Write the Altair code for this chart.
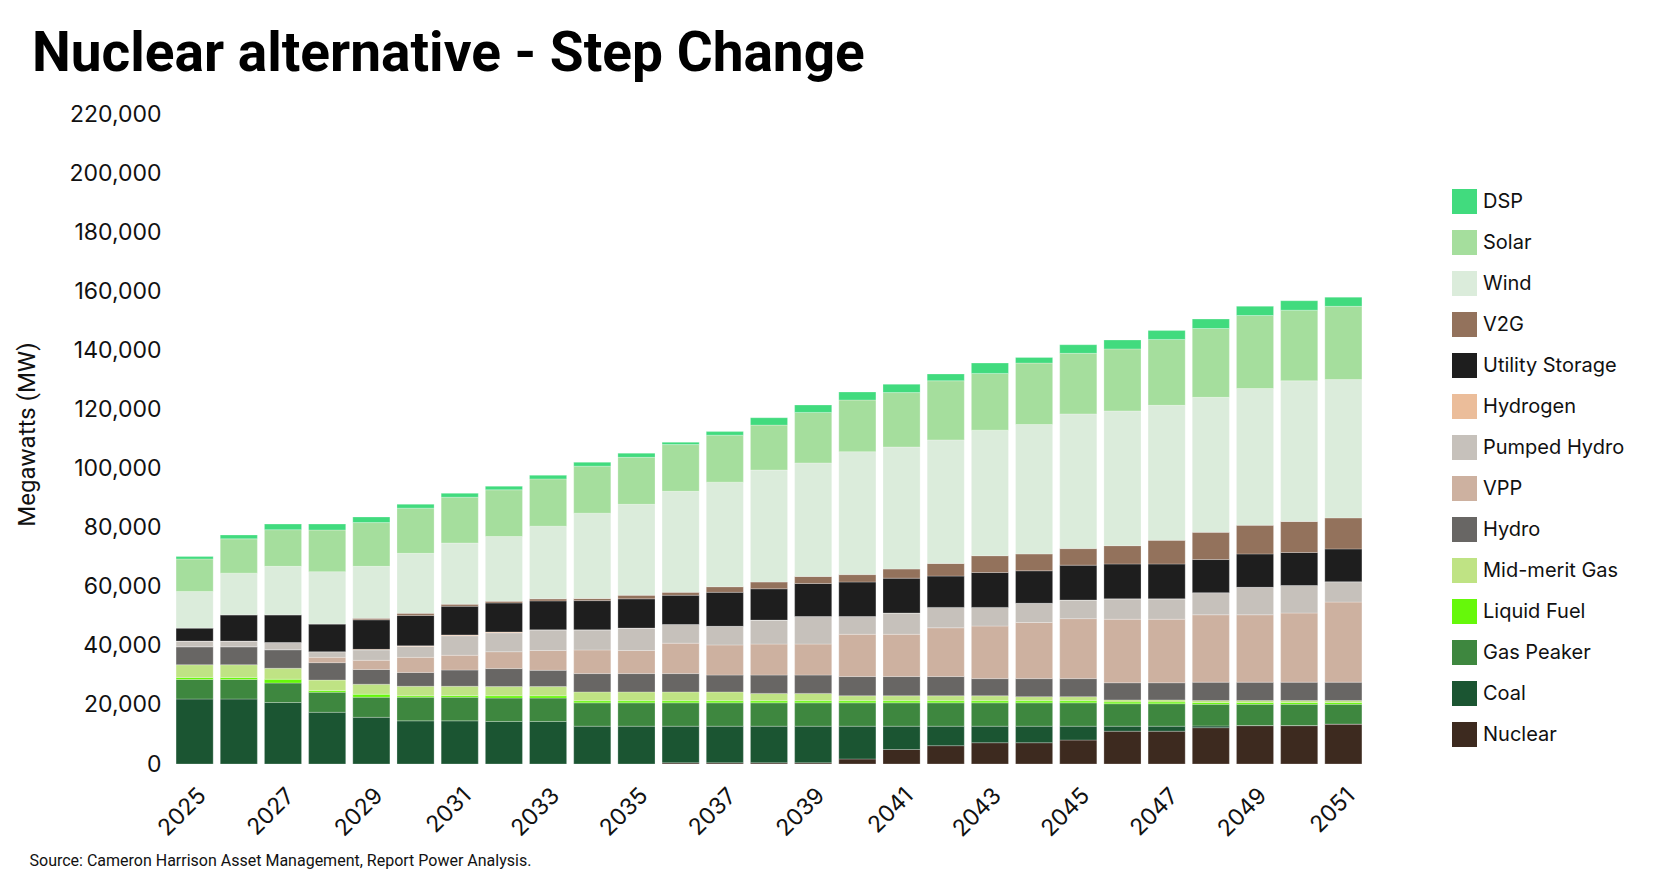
import altair as alt
import pandas as pd

years = [str(y) for y in range(2025, 2052)]

# Values in thousand MW (bottom of stack first)
nuclear = [0, 0, 0, 0, 0, 0, 0, 0, 0, 0, 0, 0.4, 0.4, 0.4, 0.4, 1.7, 4.9, 6.2, 7.2, 7.2, 8.1, 11.1, 11.1, 12.3, 13.0, 13.0, 13.5]
coal = [22.0, 22.0, 20.8, 17.5, 15.8, 14.6, 14.6, 14.4, 14.4, 12.8, 12.8, 12.4, 12.4, 12.4, 12.4, 11.1, 7.9, 6.6, 5.6, 5.6, 4.7, 1.7, 1.7, 0.6, 0, 0, 0]
gas_peaker = [6.6, 6.6, 6.6, 6.8, 6.8, 8.0, 8.0, 7.9, 7.9, 7.9, 7.9, 7.9, 7.9, 7.9, 7.9, 7.9, 7.9, 7.9, 7.9, 7.9, 7.9, 7.6, 7.6, 7.3, 7.2, 7.2, 6.7]
liquid_fuel = [0.7, 0.7, 1.3, 0.6, 1.0, 0.5, 0.6, 0.8, 0.8, 0.7, 0.7, 0.7, 0.7, 0.7, 0.7, 0.7, 0.7, 0.7, 0.7, 0.7, 0.7, 0.6, 0.6, 0.6, 0.6, 0.6, 0.6]
mid_merit_gas = [4.3, 4.3, 3.7, 3.5, 3.4, 3.2, 3.1, 3.1, 3.1, 3.0, 3.0, 3.0, 3.0, 2.5, 2.5, 1.7, 1.7, 1.7, 1.7, 1.4, 1.4, 0.7, 0.7, 0.7, 0.7, 0.7, 0.7]
hydro = [6.1, 6.1, 6.3, 5.9, 5.0, 4.7, 5.5, 6.1, 5.5, 6.2, 6.2, 6.2, 5.7, 6.2, 6.2, 6.5, 6.5, 6.5, 5.8, 6.1, 6.1, 5.8, 5.8, 6.2, 6.2, 6.2, 6.2]
vpp = [0, 0, 0, 1.8, 3.1, 5.1, 5.0, 5.7, 6.7, 8.0, 7.8, 10.3, 10.2, 10.5, 10.5, 14.3, 14.3, 16.5, 17.8, 19.0, 20.3, 21.5, 21.5, 22.8, 22.8, 23.4, 27.1]
pumped_hydro = [1.9, 1.9, 2.4, 1.9, 3.5, 3.7, 6.6, 6.4, 7.0, 6.8, 7.6, 6.3, 6.3, 8.1, 9.3, 6.0, 7.2, 6.9, 6.3, 6.5, 6.3, 6.9, 6.9, 7.5, 9.3, 9.3, 6.9]
hydrogen = [0, 0, 0, 0, 0.2, 0.2, 0.3, 0.3, 0, 0, 0, 0, 0, 0, 0, 0, 0, 0, 0, 0, 0, 0, 0, 0, 0, 0, 0]
utility_storage = [4.4, 8.9, 9.4, 9.4, 10.0, 10.3, 9.7, 9.8, 9.8, 9.9, 9.9, 9.9, 11.5, 10.6, 11.2, 11.7, 11.8, 10.6, 11.8, 11.0, 11.8, 11.8, 11.8, 11.2, 11.3, 11.2, 11.1]
v2g = [0, 0, 0, 0, 0.5, 0.7, 0.7, 0.6, 0.7, 0.7, 1.2, 1.0, 1.9, 2.3, 2.4, 2.5, 3.1, 4.3, 5.7, 5.7, 5.6, 6.2, 8.0, 9.2, 9.7, 10.5, 10.5]
wind = [12.4, 14.1, 16.4, 17.7, 17.6, 20.3, 20.7, 21.9, 24.6, 28.9, 30.8, 34.2, 35.4, 37.9, 38.4, 41.6, 41.3, 41.8, 42.5, 43.8, 45.6, 45.6, 45.7, 45.7, 46.3, 47.6, 46.8]
solar = [11.0, 11.6, 12.4, 14.1, 14.8, 15.3, 15.5, 15.8, 16.0, 15.9, 15.9, 15.8, 15.9, 15.2, 17.1, 17.5, 18.4, 20.0, 19.2, 20.8, 20.5, 21.0, 22.3, 23.3, 24.7, 23.9, 24.8]
dsp = [0.8, 1.3, 1.9, 2.0, 1.9, 1.3, 1.3, 1.2, 1.2, 1.3, 1.4, 0.8, 1.2, 2.5, 2.5, 2.7, 2.8, 2.3, 3.5, 1.9, 2.9, 3.0, 3.0, 3.2, 3.1, 3.2, 3.1]

series_names = ["Nuclear", "Coal", "Gas Peaker", "Liquid Fuel", "Mid-merit Gas", "Hydro", "VPP",
                "Pumped Hydro", "Hydrogen", "Utility Storage", "V2G", "Wind", "Solar", "DSP"]
series_values = [nuclear, coal, gas_peaker, liquid_fuel, mid_merit_gas, hydro, vpp,
                 pumped_hydro, hydrogen, utility_storage, v2g, wind, solar, dsp]
series_colors = ["#3d2a1f", "#1b5532", "#3e873f", "#66f80a", "#bfe384", "#686664", "#cdb1a0",
                 "#c6c1bb", "#ebbd9a", "#1e1e1e", "#93725c", "#dbecdb", "#a5de9d", "#41db7e"]

rows = []
for idx, (name, vals) in enumerate(zip(series_names, series_values)):
    for yr, v in zip(years, vals):
        rows.append({"Year": yr, "Technology": name, "MW": round(v * 1000), "order": idx})
df = pd.DataFrame(rows)

legend_order = series_names[::-1]
legend_colors = series_colors[::-1]

LABEL_FONT = "Inter"

chart = alt.Chart(df).mark_bar(stroke="#ffffff", strokeWidth=0.5, strokeOpacity=0.5).encode(
    x=alt.X(
        "Year:O",
        scale=alt.Scale(paddingInner=0.16, paddingOuter=0.16),
        axis=alt.Axis(
            values=years[::2], labelAngle=315, domain=False, ticks=False,
            labelFont=LABEL_FONT, labelFontSize=23, labelColor="#111111", labelPadding=20,
            title="Source: Cameron Harrison Asset Management, Report Power Analysis.",
            titleFont="Roboto", titleFontSize=16, titleFontWeight="normal", titleColor="#111111",
            titleX=-140, titleY=101, titleAlign="left", titleBaseline="alphabetic",
        ),
    ),
    y=alt.Y(
        "MW:Q", stack="zero",
        scale=alt.Scale(domain=[0, 220000], nice=False),
        axis=alt.Axis(
            values=list(range(0, 220001, 20000)), format=",.0f", domain=False, ticks=False, grid=False,
            labelFont=LABEL_FONT, labelFontSize=23, labelColor="#111111", labelPadding=8,
            title="Megawatts (MW)", titleFont="Roboto", titleFontSize=24, titleFontWeight="normal",
            titleColor="#111111", titleAngle=270, titleX=-142, titleY=320,
            titleAlign="center", titleBaseline="middle",
        ),
    ),
    color=alt.Color(
        "Technology:N",
        sort=legend_order,
        scale=alt.Scale(domain=legend_order, range=legend_colors),
        legend=alt.Legend(
            title=None, orient="none", legendX=1283, legendY=75,
            symbolType="square", symbolSize=625, symbolStrokeWidth=0, symbolOpacity=1,
            labelFont=LABEL_FONT, labelFontSize=20, labelColor="#111111", labelOffset=6,
            rowPadding=16, labelLimit=300,
        ),
    ),
    order=alt.Order("order:Q", sort="ascending"),
).properties(
    width=1200,
    height=650,
    padding={"left": 161, "top": 106, "right": 303, "bottom": 107},
    autosize=alt.AutoSizeParams(type="none"),
    title=alt.Title(
        "Nuclear alternative - Step Change",
        font="Roboto", fontSize=55, fontWeight="bold", color="#000000",
        anchor="start", frame="group", dx=-137, offset=20,
    ),
).configure_view(strokeWidth=0)

chart.save("out.html", embed_options={"renderer": "svg", "actions": False})
